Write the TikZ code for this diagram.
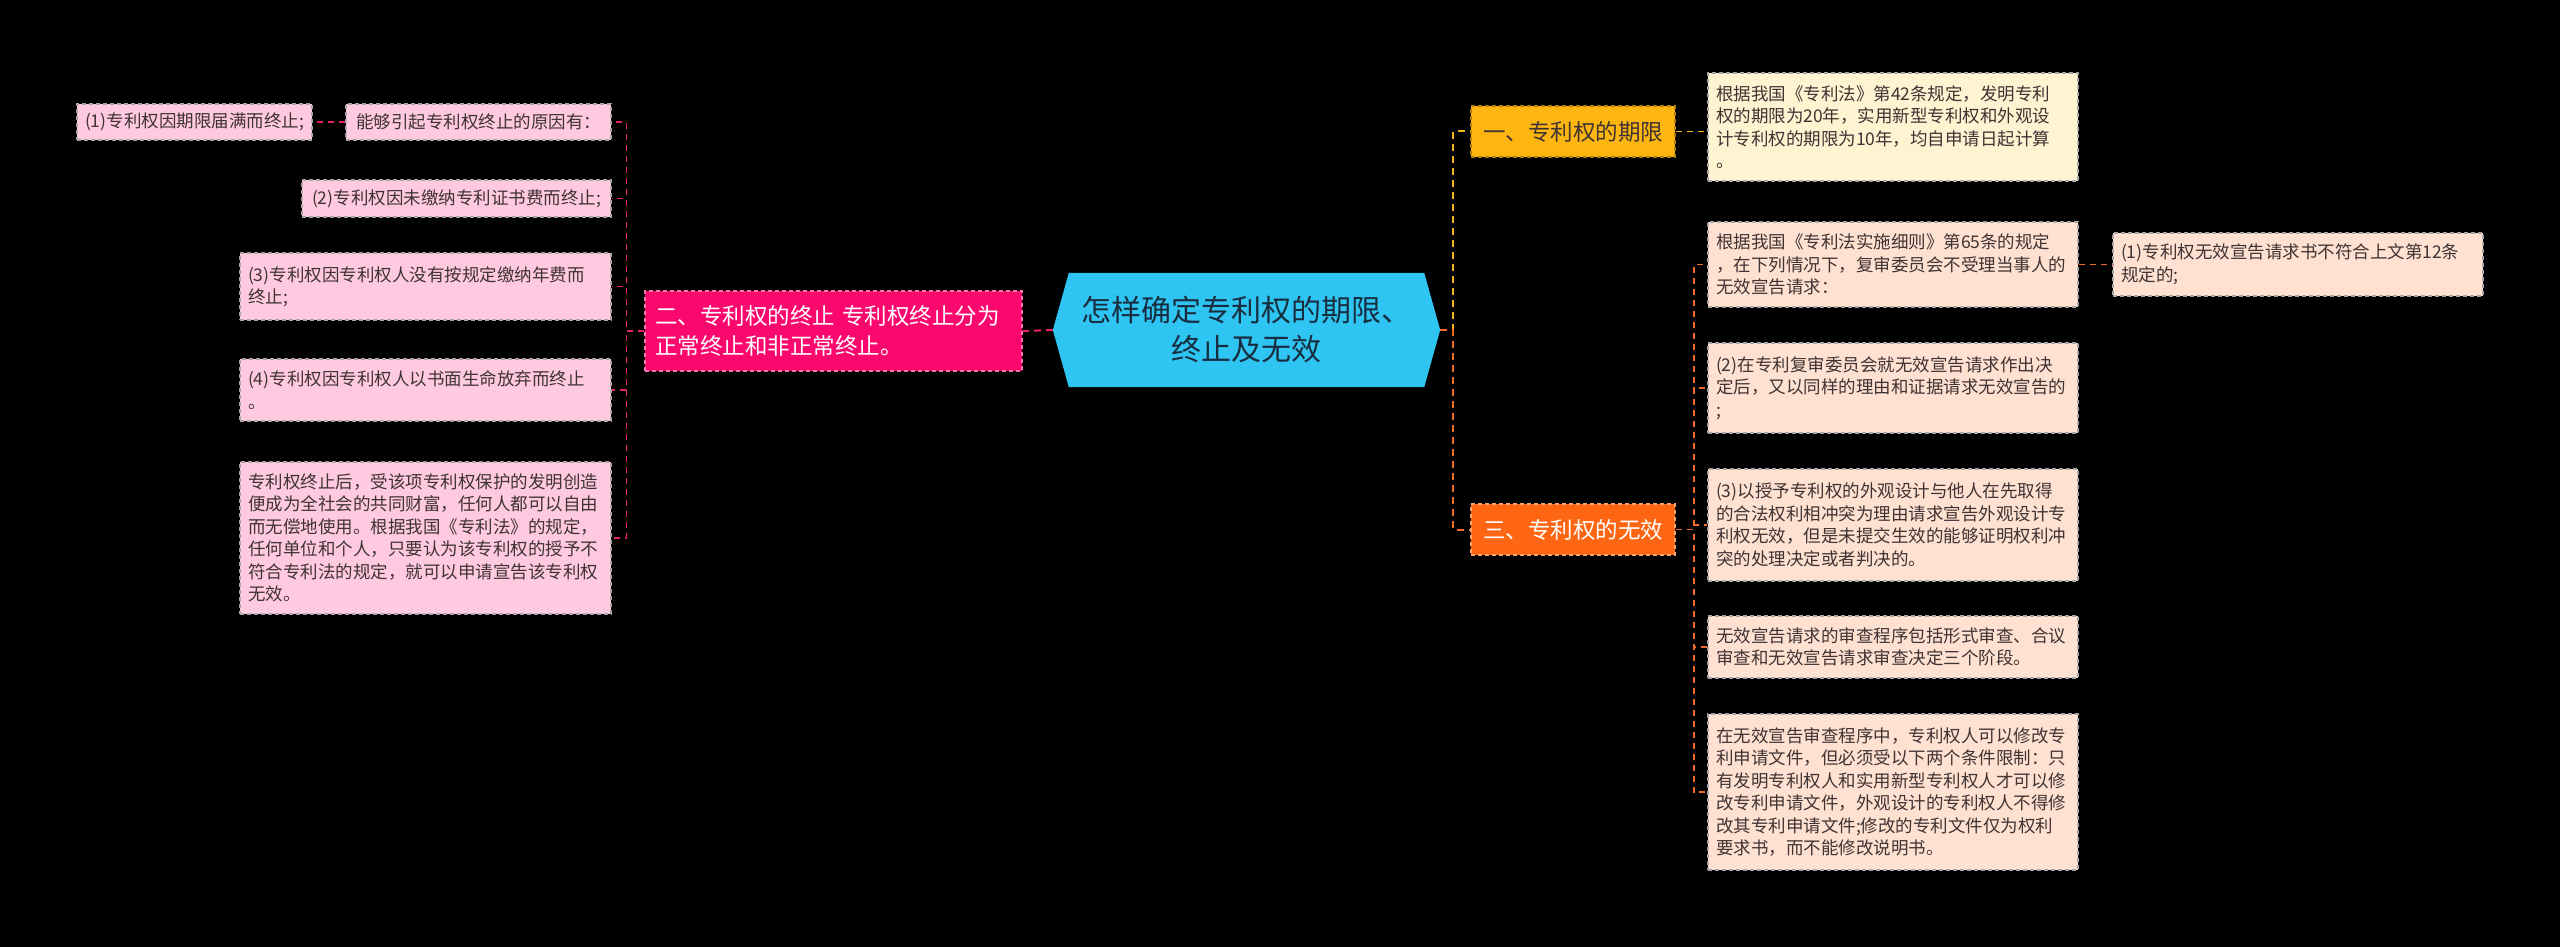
\documentclass[tikz,border=0pt]{standalone}
\usepackage{fontspec}
\setmainfont{Noto Sans CJK SC}
\usetikzlibrary{backgrounds}

\definecolor{cyanC}{HTML}{2EC5F2}
\definecolor{pinkM}{HTML}{FA086E}
\definecolor{pinkL}{HTML}{FFC9E0}
\definecolor{goldM}{HTML}{FDB60F}
\definecolor{creamL}{HTML}{FFF3D2}
\definecolor{orangeM}{HTML}{FF6613}
\definecolor{peachL}{HTML}{FFE1D1}
\definecolor{txtD}{HTML}{3F3333}
\definecolor{txtC}{HTML}{182E40}
\definecolor{lnPink}{HTML}{E8206E}
\definecolor{lnGold}{HTML}{F2B418}
\definecolor{lnOrange}{HTML}{F06A25}

\tikzset{
  leaf/.style={draw=gray!70, dash pattern=on 4pt off 3pt, line width=1.2pt,
    inner xsep=8pt, inner ysep=6pt, align=left, anchor=center,
    font=\fontsize{17.5}{22.5}\selectfont, text=txtD},
  mainbox/.style={dash pattern=on 4pt off 3pt, line width=1.3pt,
    inner xsep=10pt, inner ysep=6pt, align=left, anchor=center,
    font=\fontsize{22.5}{30}\selectfont},
  lnk/.style={draw=#1, line width=2pt, dash pattern=on 7pt off 5pt},
  sublnk/.style={draw=#1, line width=1.7pt, dash pattern=on 6pt off 5pt},
}

\begin{document}
\begin{tikzpicture}[x=1pt,y=-1pt]
\begin{scope}[on background layer]
\fill[black] (0,0) rectangle (2560,947);
\end{scope}
\useasboundingbox (0,0) rectangle (2560,947);

% center
\node[minimum width=387pt, minimum height=114pt, align=center, text=txtC,
  font=\fontsize{30}{39}\selectfont] (C) at (1246.5,330) {怎样确定专利权的期限、\\终止及无效};
\begin{scope}[on background layer]
\fill[cyanC] (C.west) -- ([xshift=16pt]C.north west) -- ([xshift=-16pt]C.north east)
  -- (C.east) -- ([xshift=-16pt]C.south east) -- ([xshift=16pt]C.south west) -- cycle;
\end{scope}

% left main
\node[mainbox, fill=pinkM, draw=pinkM!55!white, text=white, minimum width=377pt, minimum height=80pt, text width=357pt] (M2) at (833.5,331)
  {二、专利权的终止 专利权终止分为\\正常终止和非正常终止。};

% left leaves
\node[leaf, fill=pinkL, minimum width=235pt, minimum height=36pt, align=center] (L1a) at (194.5,122) {(1)专利权因期限届满而终止;};
\node[leaf, fill=pinkL, minimum width=265pt, minimum height=36pt, align=center] (L1) at (478.5,122) {能够引起专利权终止的原因有：};
\node[leaf, fill=pinkL, minimum width=309pt, minimum height=37pt, align=center] (L2) at (456.5,198.5) {(2)专利权因未缴纳专利证书费而终止;};
\node[leaf, fill=pinkL, text width=355pt, minimum height=67pt] (L3) at (425.5,286.5) {(3)专利权因专利权人没有按规定缴纳年费而\\终止;};
\node[leaf, fill=pinkL, text width=355pt, minimum height=62pt] (L4) at (425.5,390) {(4)专利权因专利权人以书面生命放弃而终止\\。};
\node[leaf, fill=pinkL, text width=355pt, minimum height=152pt] (L5) at (425.5,538) {专利权终止后，受该项专利权保护的发明创造\\便成为全社会的共同财富，任何人都可以自由\\而无偿地使用。根据我国《专利法》的规定，\\任何单位和个人，只要认为该专利权的授予不\\符合专利法的规定，就可以申请宣告该专利权\\无效。};

% right main
\node[mainbox, fill=goldM, draw=goldM!70!black, text=txtD, minimum width=204pt, minimum height=51pt, align=center] (R1) at (1573,131.5) {一、专利权的期限};
\node[mainbox, fill=orangeM, draw=orangeM!60!white, text=white, minimum width=204pt, minimum height=51pt, align=center] (R3) at (1573,529.5) {三、专利权的无效};

% right leaves
\node[leaf, fill=creamL, text width=354pt, minimum height=108pt] (R1c) at (1893,127) {根据我国《专利法》第42条规定，发明专利\\权的期限为20年，实用新型专利权和外观设\\计专利权的期限为10年，均自申请日起计算\\。};
\node[leaf, fill=peachL, text width=354pt, minimum height=85pt] (c1) at (1893,264.5) {根据我国《专利法实施细则》第65条的规定\\，在下列情况下，复审委员会不受理当事人的\\无效宣告请求：};
\node[leaf, fill=peachL, text width=354pt, minimum height=63pt] (c1a) at (2298,264.5) {(1)专利权无效宣告请求书不符合上文第12条\\规定的;};
\node[leaf, fill=peachL, text width=354pt, minimum height=90pt] (c2) at (1893,388) {(2)在专利复审委员会就无效宣告请求作出决\\定后，又以同样的理由和证据请求无效宣告的\\;};
\node[leaf, fill=peachL, text width=354pt, minimum height=112pt] (c3) at (1893,525) {(3)以授予专利权的外观设计与他人在先取得\\的合法权利相冲突为理由请求宣告外观设计专\\利权无效，但是未提交生效的能够证明权利冲\\突的处理决定或者判决的。};
\node[leaf, fill=peachL, text width=354pt, minimum height=62pt] (c4) at (1893,647) {无效宣告请求的审查程序包括形式审查、合议\\审查和无效宣告请求审查决定三个阶段。};
\node[leaf, fill=peachL, text width=354pt, minimum height=156pt] (c5) at (1893,792) {在无效宣告审查程序中，专利权人可以修改专\\利申请文件，但必须受以下两个条件限制：只\\有发明专利权人和实用新型专利权人才可以修\\改专利申请文件，外观设计的专利权人不得修\\改其专利申请文件;修改的专利文件仅为权利\\要求书，而不能修改说明书。};

% connectors left
\draw[lnk=lnPink] (C.west) -- (M2.east);
\foreach \n in {L1,L2,L3,L4,L5}
  \draw[sublnk=lnPink] (M2.west) -- ++(-18,0) |- (\n.east);
\draw[sublnk=lnPink] (L1.west) -- (L1a.east);

% connectors right
\draw[lnk=lnGold] (C.east) -- ++(13,0) |- (R1.west);
\draw[lnk=lnOrange] (C.east) -- ++(13,0) |- (R3.west);
\draw[sublnk=lnGold] (R1.east) -- (R1.east -| R1c.west);
\foreach \n in {c1,c2,c3,c4,c5}
  \draw[sublnk=lnOrange] (R3.east) -- ++(18,0) |- (\n.west);
\draw[sublnk=lnOrange] (c1.east) -- (c1a.west);
\end{tikzpicture}
\end{document}
